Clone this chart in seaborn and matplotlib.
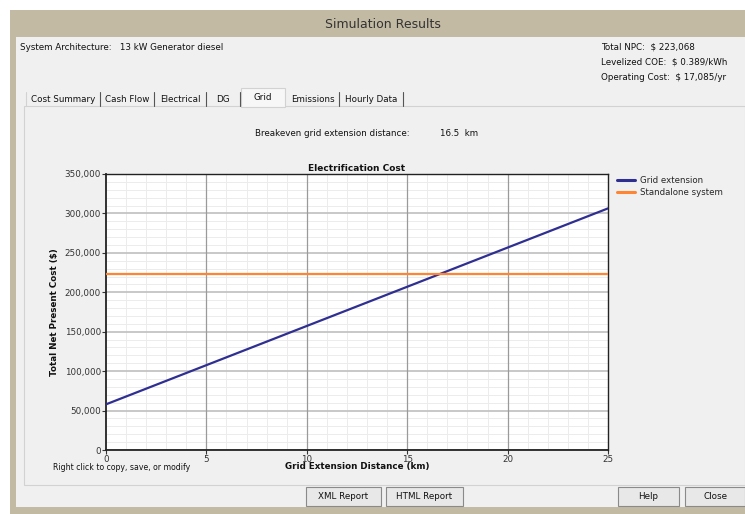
import matplotlib
matplotlib.use("Agg")
import matplotlib.pyplot as plt
from matplotlib.patches import Rectangle
from matplotlib.ticker import MultipleLocator, FuncFormatter
import seaborn as sns
import pandas as pd

# ---- data ----
distance_km = [0, 25]
grid_extension = [57900, 306400]
standalone = [223068, 223068]
series_names = ["Grid extension", "Standalone system"]
series_colors = ["#2f2f92", "#ff8533"]

tab_labels = ["Cost Summary", "Cash Flow", "Electrical", "DG", "Grid", "Emissions", "Hourly Data"]
summary_lines = ["Total NPC:  $ 223,068", "Levelized COE:  $ 0.389/kWh", "Operating Cost:  $ 17,085/yr"]

df = pd.DataFrame({
    "Distance": distance_km * 2,
    "Cost": grid_extension + standalone,
    "Series": [series_names[0]] * len(distance_km) + [series_names[1]] * len(distance_km),
})

sns.set_theme(style="white")
plt.rcParams["font.family"] = ["DejaVu Sans"]

W, H = 745, 514
fig = plt.figure(figsize=(W / 100, H / 100), dpi=100)
fig.patch.set_facecolor("white")


def rect(x0, y0, x1, y1, fc, ec="none", lw=0.8, z=0):
    fig.patches.append(Rectangle((x0 / W, 1 - y1 / H), (x1 - x0) / W, (y1 - y0) / H,
                                 transform=fig.transFigure, facecolor=fc, edgecolor=ec,
                                 linewidth=lw, zorder=z))


def vline(x, y0, y1, color="#555555", lw=0.8):
    fig.lines.append(plt.Line2D([x / W, x / W], [1 - y0 / H, 1 - y1 / H],
                                transform=fig.transFigure, color=color, lw=lw, zorder=2))


def txt(x, y, s, size=6.5, **kw):
    fig.text(x / W, 1 - y / H, s, fontsize=size, va="center", zorder=3, **kw)


# window chrome
rect(10, 10, 745, 514, "#c3baa4")
rect(16, 37, 745, 507, "#f0f0f0")
txt(383, 24, "Simulation Results", size=9, ha="center", color="#333333")

txt(20, 47, "System Architecture:   13 kW Generator diesel", size=6.3, color="#111111")
for i, s in enumerate(summary_lines):
    txt(601, 47 + 15 * i, s, size=6.3, color="#111111")

# tab panel
rect(24, 106, 745, 485, "#f0f0f0", ec="#d2d2d2", lw=0.8)
tab_x = [(26, 100), (100, 154), (154, 206), (206, 240), (240, 286), (286, 339), (339, 403)]
for (x0, x1), lab in zip(tab_x, tab_labels):
    if lab == "Grid":
        rect(x0 + 1, 88, x1 - 1, 107, "#f7f7f7", ec="#d2d2d2", z=1)
        txt((x0 + x1) / 2, 97, lab, size=6.3, ha="center", color="#111111")
    else:
        vline(x1, 92, 106)
        txt((x0 + x1) / 2, 99, lab, size=6.3, ha="center", color="#111111")
vline(26, 92, 106, color="#d2d2d2")

txt(255, 133, "Breakeven grid extension distance:", size=6.3, color="#111111")
txt(440, 133, "16.5  km", size=6.3, color="#111111")
txt(53, 467, "Right click to copy, save, or modify", size=5.6, color="#111111")

# buttons
for (x0, x1), lab in zip([(306, 381), (386, 463), (618, 679), (685, 745)],
                         ["XML Report", "HTML Report", "Help", "Close"]):
    rect(x0, 487, x1, 506, "#e8e8e8", ec="#8a8a8a", lw=0.8, z=1)
    txt((x0 + x1) / 2, 496.5, lab, size=6.3, ha="center", color="#111111")

# chart axes
ax = fig.add_axes([106 / W, (H - 450) / H, (608 - 106) / W, (450 - 174) / H])
ax.set_zorder(10)
ax.set_facecolor("white")
sns.lineplot(data=df, x="Distance", y="Cost", hue="Series", palette=series_colors,
             hue_order=series_names, linewidth=1.6, ax=ax, legend=True, zorder=3)

ax.set_xlim(0, 25)
ax.set_ylim(0, 350000)
ax.xaxis.set_major_locator(MultipleLocator(5))
ax.xaxis.set_minor_locator(MultipleLocator(1))
ax.yaxis.set_major_locator(MultipleLocator(50000))
ax.yaxis.set_minor_locator(MultipleLocator(10000))
ax.yaxis.set_major_formatter(FuncFormatter(lambda v, p: f"{int(v):,}"))
ax.grid(which="minor", color="#ececec", linewidth=0.7, zorder=0)
ax.grid(which="major", axis="y", color="#c4c4c4", linewidth=1.3, zorder=0.5)
ax.grid(which="major", axis="x", visible=False)
for xv in ax.get_xticks():
    if 0 < xv < 25:
        ax.axvline(xv, color="#9a9a9a", linewidth=0.9, zorder=1)
ax.set_axisbelow(True)
ax.tick_params(which="major", length=3, width=0.8, labelsize=6.3, colors="#333333",
               direction="out", pad=0.5, bottom=True, left=True)
ax.tick_params(which="minor", length=0)
for sp in ax.spines.values():
    sp.set_color("#222222")
    sp.set_linewidth(1.0)
ax.spines["left"].set_linewidth(1.3)
ax.spines["bottom"].set_linewidth(1.3)

ax.set_title("Electrification Cost", fontsize=6.5, fontweight="bold", pad=2, color="#111111")
ax.set_xlabel("Grid Extension Distance (km)", fontsize=6.3, fontweight="bold", labelpad=-1, color="#111111")
ax.set_ylabel("Total Net Present Cost ($)", fontsize=6.3, fontweight="bold", labelpad=4, color="#111111")

leg = ax.legend(loc="upper left", bbox_to_anchor=(1.005, 1.015), frameon=False, fontsize=6.2,
                handlelength=2.2, handletextpad=0.5, borderaxespad=0.3, labelspacing=0.35)
for line in leg.get_lines():
    line.set_linewidth(2.2)

fig.savefig("out.png", dpi=100)
